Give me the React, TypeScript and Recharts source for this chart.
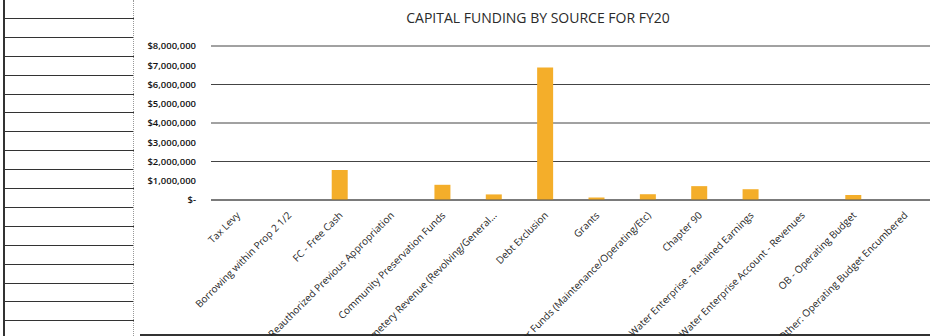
import { BarChart, Bar, XAxis, YAxis, CartesianGrid } from "recharts";

const categories = [
  "Tax Levy",
  "Borrowing within Prop 2 1/2",
  "FC - Free Cash",
  "Reauthorized Previous Appropriation",
  "Community Preservation Funds",
  "Cemetery Revenue (Revolving/General...",
  "Debt Exclusion",
  "Grants",
  "Other Funds (Maintenance/Operating/Etc)",
  "Chapter 90",
  "Water Enterprise - Retained Earnings",
  "Water Enterprise Account - Revenues",
  "OB - Operating Budget",
  "Other: Operating Budget Encumbered",
];

const amounts = [0, 0, 1560000, 0, 790000, 290000, 6880000, 130000, 300000, 720000, 560000, 0, 260000, 0];

const yTicks = [0, 1000000, 2000000, 3000000, 4000000, 5000000, 6000000, 7000000, 8000000];

const data = categories.map((name, i) => ({ name, amount: amounts[i] }));

const money = (v: number) => (v === 0 ? "$-" : "$" + v.toLocaleString("en-US"));

function SlantTick({ x, y, payload }: any) {
  return (
    <g transform={`translate(${x + 4},${y + 8})`}>
      <text
        transform="rotate(-45)"
        textAnchor="end"
        fontSize={10}
        fill="#1e1e1e"
        fontFamily="'Open Sans', sans-serif"
      >
        {payload.value}
      </text>
    </g>
  );
}

export default function App() {
  return (
    <div style={{ position: "absolute", left: 0, top: 0, width: 930, height: 336, background: "#fff", overflow: "hidden" }}>
      {/* ruled table on the left of the scan */}
      <div
        style={{
          position: "absolute",
          left: 3,
          top: 0,
          width: 128,
          height: 336,
          borderLeft: "2px solid #333",
          borderRight: "1px dotted #999",
          background:
            "repeating-linear-gradient(to bottom, transparent 0px, transparent 17.9px, #333 17.9px, #333 18.9px)",
        }}
      />
      <div style={{ position: "absolute", left: 140, top: 334, width: 790, height: 2, background: "#333" }} />
      <div
        style={{
          position: "absolute",
          left: 0,
          top: 8,
          width: 1076,
          textAlign: "center",
          fontFamily: "'Open Sans', sans-serif",
          fontSize: 14,
          color: "#2a2a2a",
        }}
      >
        CAPITAL FUNDING BY SOURCE FOR FY20
      </div>
      <div style={{ position: "absolute", left: 0, top: 0 }}>
        <BarChart width={930} height={336} data={data} margin={{ top: 46, right: 0, left: 0, bottom: 0 }}>
          <CartesianGrid vertical={false} stroke="#444" />
          <XAxis
            dataKey="name"
            interval={0}
            height={136}
            tickLine={false}
            axisLine={{ stroke: "#555" }}
            tick={<SlantTick />}
          />
          <YAxis
            width={211}
            domain={[0, 8000000]}
            ticks={yTicks}
            tickFormatter={money}
            axisLine={false}
            tickLine={false}
            tickSize={0}
            tickMargin={15}
            tick={{ fontSize: 9.5, fill: "#111", fontWeight: 600, fontFamily: "'Open Sans', sans-serif" }}
          />
          <Bar dataKey="amount" fill="#F4AE2A" barSize={16} isAnimationActive={false} />
        </BarChart>
      </div>
    </div>
  );
}
